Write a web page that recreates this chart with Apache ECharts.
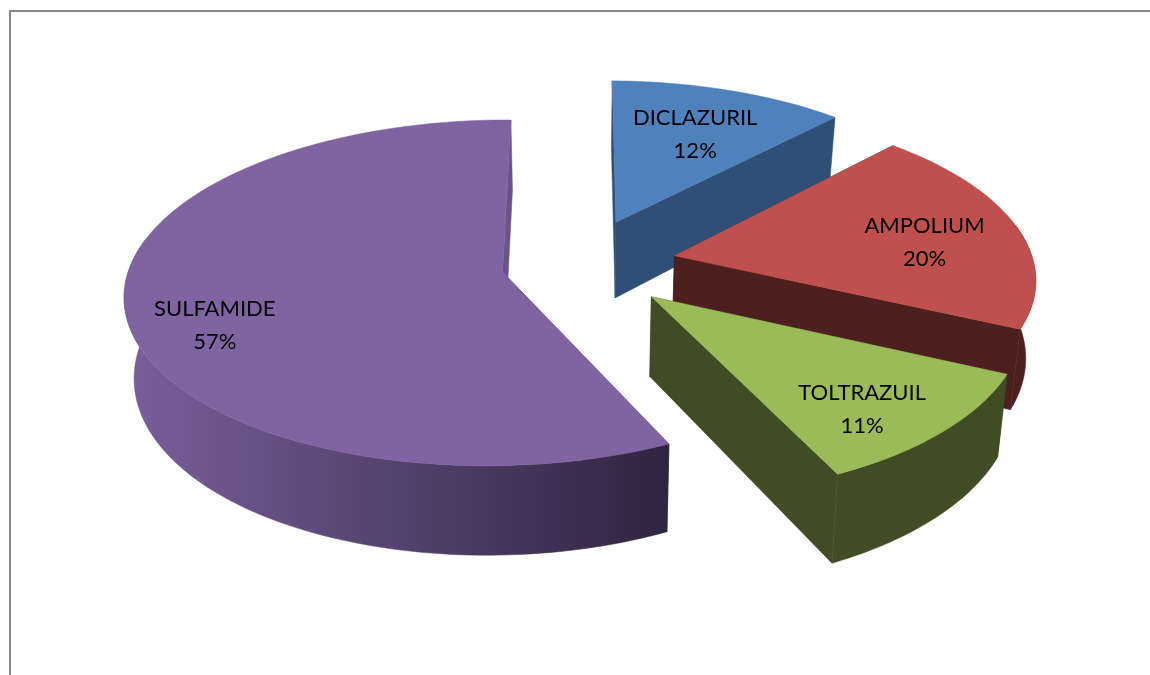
<!DOCTYPE html>
<html><head><meta charset="utf-8">
<style>html,body{margin:0;padding:0;background:#fff}#c{width:1150px;height:675px}</style>
<script src="https://cdn.jsdelivr.net/npm/echarts@6/dist/echarts.min.js"></script>
</head><body><div id="c"></div>
<script>
// Data
const categories = ['DICLAZURIL', 'AMPOLIUM', 'TOLTRAZUIL', 'SULFAMIDE'];
const shares = [12, 20, 11, 57];

// Styles
const topColors = ['#4f81bd', '#c0504d', '#9bbb59', '#8064a2'];
const wallColors = [
  ['#2f4f76', '#2f4f76'],
  ['#4d1f1e', '#4d1f1e'],
  ['#3f4c24', '#3f4c24'],
  ['#7a5f9b', '#2f2440']
];
const cutColors = ['#2f4f76', '#4d1f1e', '#3f4c24', '#6b5389'];

// Layout of the projected 3D pie
const CX = 580, CY = 264, RX = 366, RY = 168, PERSP = 0.12, TILT = 0.012, DEPTH = 78, FOOT = 0.978;
const explode = [0.275, 0.265, 0.27, 0.215];
const labelNudge = [[-5, 10], [2, 8], [5, 18], [-19, 26]];
const LABEL_F = 0.72;

const total = shares.reduce((a, b) => a + b, 0);

function project(X, Y, low) {
  const w = 1 + PERSP * Y + TILT * X;
  let x = CX + RX * X / w;
  let y = CY - RY * Y / w;
  if (low) { x = CX + (x - CX) * FOOT; y += DEPTH / w; }
  return [x, y];
}

function renderSlice(params, api) {
  const i = params.dataIndex;
  const before = shares.slice(0, i).reduce((a, b) => a + b, 0);
  const a0 = before / total * 2 * Math.PI;
  const a1 = (before + api.value(1)) / total * 2 * Math.PI;
  const mid = (a0 + a1) / 2;
  const ox = Math.sin(mid) * explode[i], oy = Math.cos(mid) * explode[i];
  const onRim = (a, f) => [ox + Math.sin(a) * f, oy + Math.cos(a) * f];

  const n = Math.max(12, Math.round((a1 - a0) * 40));
  const topArc = [], lowArc = [], wallTop = [], wallLow = [];
  for (let k = 0; k <= n; k++) {
    const a = a0 + (a1 - a0) * k / n;
    const p = onRim(a, 1);
    const t = project(p[0], p[1], false), l = project(p[0], p[1], true);
    topArc.push(t);
    lowArc.push(l);
    // only the part of the rim that faces the viewer has a visible wall
    if (Math.cos(a) < 0.2) { wallTop.push(t); wallLow.push(l); }
  }
  const apexT = project(ox, oy, false), apexL = project(ox, oy, true);
  const poly = (points, fill) => ({ type: 'polygon', shape: { points }, style: { fill, stroke: fill, lineWidth: 0.5 } });

  const children = [
    poly([apexT, topArc[0], lowArc[0], apexL], cutColors[i]),
    poly([apexT, topArc[n], lowArc[n], apexL], cutColors[i])
  ];
  if (wallTop.length > 1) {
    children.push(poly(wallTop.concat(wallLow.slice().reverse()), {
      type: 'linear', x: 0, y: 0, x2: 1, y2: 0,
      colorStops: [{ offset: 0, color: wallColors[i][0] }, { offset: 1, color: wallColors[i][1] }]
    }));
  }
  children.push(poly([apexT].concat(topArc), topColors[i]));
  const lp = onRim(mid, LABEL_F), lxy = project(lp[0], lp[1], false);
  children.push({
    type: 'text',
    style: {
      x: lxy[0] + labelNudge[i][0], y: lxy[1] + labelNudge[i][1],
      text: categories[i] + '\n' + api.value(1) + '%',
      fill: '#000', font: '22px Lato', lineHeight: 33, align: 'center', verticalAlign: 'middle'
    }
  });
  return { type: 'group', children };
}

const chart = echarts.init(document.getElementById('c'), null, { renderer: 'canvas' });
chart.setOption({
  animation: false,
  backgroundColor: '#ffffff',
  graphic: [
    { type: 'rect', shape: { x: 9, y: 10, width: 1141, height: 2 }, style: { fill: '#8a8a8a' } },
    { type: 'rect', shape: { x: 9, y: 10, width: 2, height: 665 }, style: { fill: '#8a8a8a' } }
  ],
  series: [{
    type: 'custom',
    coordinateSystem: 'none',
    renderItem: renderSlice,
    data: categories.map((c, i) => [c, shares[i]])
  }]
});
</script></body></html>
